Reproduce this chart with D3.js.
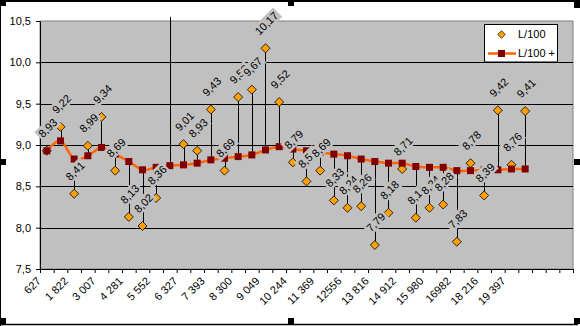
<!DOCTYPE html>
<html><head><meta charset="utf-8">
<script src="https://cdnjs.cloudflare.com/ajax/libs/d3/7.8.5/d3.min.js"></script>
<style>body{margin:0;background:#fff}svg{display:block}text{font-family:"Liberation Sans",Arial,sans-serif;font-size:11px;fill:#000}</style>
</head><body><svg id="c" width="580" height="326"></svg>
<script>
const tickLabels = ["627","","1 822","","3 007","","4 281","","5 552","","6 327","","7 393","","8 300","","9 049","","10 244","","11 369","","12556","","13 816","","14 912","","15 980","","16982","","18 216","","19 397","","","",""];
const seriesNames = ["L/100", "L/100 +"];
const l100 = [8.93,9.22,8.41,8.99,9.34,8.69,8.13,8.02,8.36,10.55,9.01,8.93,9.43,8.69,9.58,9.67,10.17,9.52,8.79,8.56,8.69,8.33,8.24,8.26,7.79,8.18,8.71,8.12,8.24,8.28,7.83,8.78,8.39,9.42,8.76,9.41];
const l100plus = [8.93,9.05,8.83,8.87,8.97,8.89,8.80,8.70,8.73,8.75,8.76,8.78,8.82,8.84,8.86,8.88,8.94,8.98,8.95,8.93,8.91,8.89,8.87,8.83,8.80,8.78,8.78,8.74,8.73,8.73,8.69,8.69,8.70,8.70,8.71,8.71];
const yTicks = [7.5,8.0,8.5,9.0,9.5,10.0,10.5];

const svg = d3.select("#c");
const m = {l:40, r:573, t:21, b:269};
const x = d3.scaleBand().domain(d3.range(tickLabels.length)).range([m.l, m.r]).padding(0);
const xb = d3.scaleLinear().domain([0, tickLabels.length]).range([m.l, m.r]);
const y = d3.scaleLinear().domain([yTicks[0], yTicks[yTicks.length-1]]).range([m.b, m.t]);
const cx = i => x(i) + x.bandwidth()/2;
const comma = s => s.replace(".", ",");

// chart area
svg.append("rect").attr("x",0).attr("y",0).attr("width",580).attr("height",326).attr("fill","#fff");
// plot area
svg.append("rect").attr("x",m.l).attr("y",m.t).attr("width",m.r-m.l).attr("height",m.b-m.t)
  .attr("fill","#C0C0C0").attr("stroke","#808080").attr("stroke-width",1);
// gridlines
svg.append("g").selectAll("line").data(yTicks.slice(1,-1)).join("line")
  .attr("x1",m.l).attr("x2",m.r).attr("y1",d=>Math.round(y(d))+0.5).attr("y2",d=>Math.round(y(d))+0.5)
  .attr("stroke","#000").attr("stroke-width",1);

// y axis
const gy = svg.append("g").attr("transform",`translate(${m.l},0)`)
  .call(d3.axisLeft(y).tickValues(yTicks).tickSize(4).tickSizeOuter(0).tickPadding(5).tickFormat(d=>comma(d3.format(".1f")(d))));
gy.select(".domain").attr("stroke","#000");
gy.selectAll(".tick line").attr("stroke","#000");
gy.selectAll("text").attr("font-size",11).attr("fill","#000").style("font-family","'Liberation Sans',Arial,sans-serif");

// x axis ticks at boundaries
const gxt = svg.append("g").attr("transform",`translate(0,${m.b})`)
  .call(d3.axisBottom(xb).tickValues(d3.range(tickLabels.length+1)).tickSize(4).tickSizeOuter(0).tickFormat(""));
gxt.select(".domain").attr("stroke","#000");
gxt.selectAll(".tick line").attr("stroke","#000");
// x labels
const gx = svg.append("g").attr("transform",`translate(0,${m.b})`)
  .call(d3.axisBottom(x).tickSize(0).tickFormat(i=>tickLabels[i]));
gx.select(".domain").remove();
gx.selectAll("text").attr("x",0).attr("y",0).attr("dy","0.35em").attr("text-anchor","end")
  .attr("transform","translate(-8,10) rotate(-45)").attr("font-size",11).attr("fill","#000")
  .style("font-family","'Liberation Sans',Arial,sans-serif");

// high-low lines
svg.append("g").selectAll("line").data(l100).join("line")
  .attr("x1",(d,i)=>Math.round(cx(i))+0.5).attr("x2",(d,i)=>Math.round(cx(i))+0.5)
  .attr("y1",d=>y(d)).attr("y2",(d,i)=>y(l100plus[i]))
  .attr("stroke","#000").attr("stroke-width",1);

const diamond = "M0,-4.5L4.5,0L0,4.5L-4.5,0Z";
const visible = l100.map((d,i)=>({v:d,i})).filter(o=>o.v<=yTicks[yTicks.length-1]);
svg.append("g").selectAll("path").data(visible).join("path")
  .attr("d",diamond).attr("transform",o=>`translate(${cx(o.i)},${y(o.v)})`)
  .attr("fill","#FFA000").attr("stroke","#000").attr("stroke-width",0.8);

// smoothed line
const line = d3.line().x((d,i)=>cx(i)).y(d=>y(d)).curve(d3.curveCardinal.tension(0));
svg.append("path").datum(l100plus).attr("d",line).attr("fill","none").attr("stroke","#FF6600").attr("stroke-width",2.5);
svg.append("g").selectAll("rect").data(l100plus).join("rect")
  .attr("x",(d,i)=>cx(i)-3.5).attr("y",d=>y(d)-3.5).attr("width",7).attr("height",7).attr("fill","#800000");

// data labels
const gl = svg.append("g");
visible.forEach(o=>{
  const g = gl.append("g");
  const t = g.append("text").attr("text-anchor","middle").attr("dy","0.35em").text(comma(d3.format(".2f")(o.v)));
  const w = t.node().getComputedTextLength();
  const off = 11 + (w + 12) * 0.3535;
  g.insert("rect","text").attr("x",-(w+4)/2).attr("y",-6.5).attr("width",w+4).attr("height",13).attr("fill","#C0C0C0");
  g.attr("transform",`translate(${cx(o.i)+1},${y(o.v)-off}) rotate(-45)`);
});

// legend
const lg = svg.append("g");
lg.append("rect").attr("x",484.5).attr("y",24.5).attr("width",73).attr("height",37.5).attr("fill","#fff").attr("stroke","#000");
lg.append("path").attr("d",diamond).attr("transform","translate(501.5,34.5) scale(0.85)").attr("fill","#FFA000").attr("stroke","#000").attr("stroke-width",0.8);
lg.append("text").attr("x",518).attr("y",34.5).attr("dy","0.35em").text(seriesNames[0]);
lg.append("line").attr("x1",488).attr("x2",516).attr("y1",53.5).attr("y2",53.5).attr("stroke","#FF6600").attr("stroke-width",2.5);
lg.append("rect").attr("x",498).attr("y",50).attr("width",7).attr("height",7).attr("fill","#800000");
lg.append("text").attr("x",518).attr("y",53.5).attr("dy","0.35em").text(seriesNames[1]);

// chart border + selection handles
svg.append("line").attr("x1",0).attr("x2",580).attr("y1",1).attr("y2",1).attr("stroke","#000").attr("stroke-width",2);
svg.append("line").attr("x1",0.5).attr("x2",0.5).attr("y1",0).attr("y2",326).attr("stroke","#000");
svg.append("line").attr("x1",0).attr("x2",578).attr("y1",324.5).attr("y2",324.5).attr("stroke","#000").attr("stroke-width",1.5);
const handles = [[0,0],[288,0],[574,2],[0,159],[574,159],[0,318],[288,318],[574,318]];
svg.append("g").selectAll("rect").data(handles).join("rect")
  .attr("x",d=>d[0]).attr("y",d=>d[1]).attr("width",6).attr("height",6).attr("fill","#000");
</script></body></html>
